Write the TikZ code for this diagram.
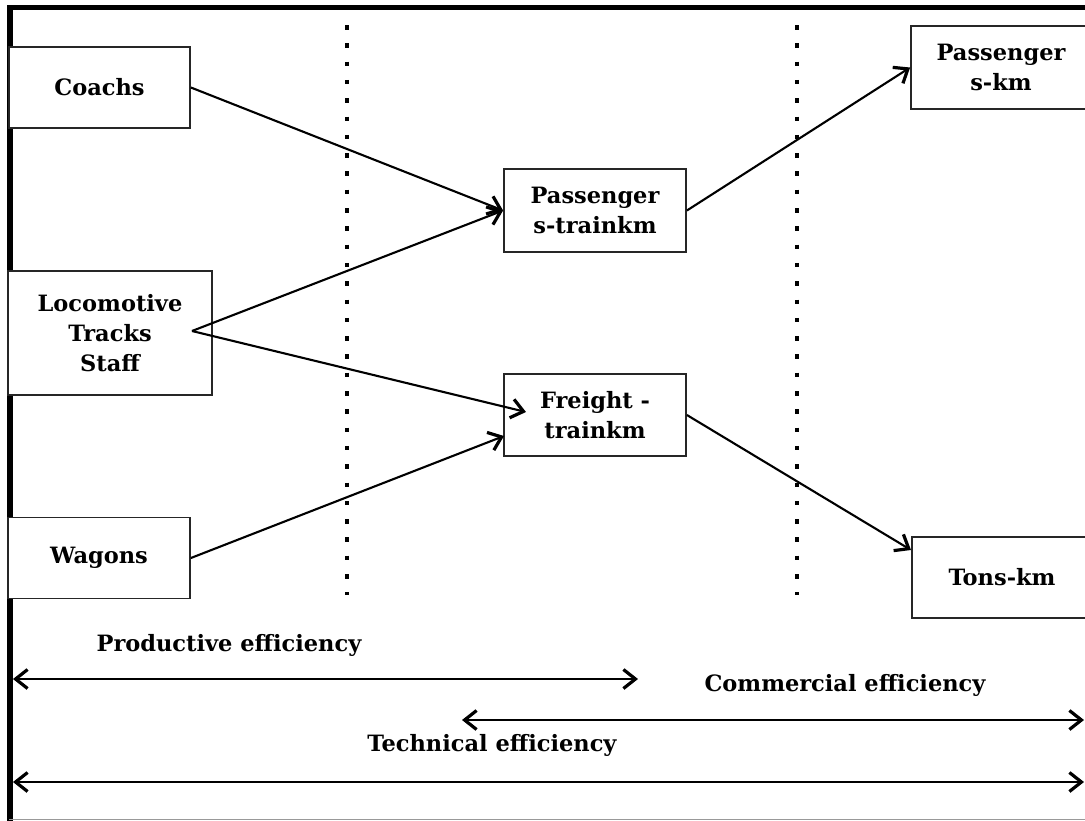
\documentclass[tikz,border=0pt]{standalone}
\usepackage{fontspec}
\setmainfont{DejaVu Serif}
\usetikzlibrary{arrows.meta}
\tikzset{
  box/.style={draw=black!85, line width=1.8pt, fill=white, align=center, inner sep=0pt,
    font=\bfseries\fontsize{22.5}{30}\selectfont},
  conn/.style={line width=2.1pt, -{Straight Barb[length=12pt,width=19pt,line width=3.2pt]}},
  dbl/.style={line width=2.1pt, {Straight Barb[length=12pt,width=19pt,line width=3.2pt]}-{Straight Barb[length=12pt,width=19pt,line width=3.2pt]}},
  lbl/.style={font=\bfseries\fontsize{22.5}{26}\selectfont},
  dots/.style={line width=4.5pt, dash pattern=on 4.5pt off 13.8pt}
}
\begin{document}
\begin{tikzpicture}[x=1pt,y=-1pt]
\useasboundingbox (0,0) rectangle (1085,820);
\begin{scope}
\clip (0,0) rectangle (1085,820);
% frame
\draw[line width=5pt] (7,7.5) -- (1090,7.5);
\draw[line width=6pt] (9.5,5) -- (9.5,825);
\draw[line width=1pt, black!40] (9,819) -- (1090,819);
% dotted separators
\draw[dots] (347,25) -- (347,595);
\draw[dots] (797,25) -- (797,595);
% boxes
\node[box, minimum width=181pt, minimum height=81pt] (coach) at (99.5,87.5) {Coachs};
\node[box, minimum width=204pt, minimum height=124pt] (loco) at (110,333) {Locomotive\\Tracks\\Staff};
\node[box, minimum width=182pt, minimum height=81pt] (wag) at (99,558) {Wagons};
\node[box, minimum width=182pt, minimum height=83pt] (pt) at (595,210.5) {Passenger\\s-trainkm};
\node[box, minimum width=182pt, minimum height=82pt] (ft) at (595,415) {Freight -\\trainkm};
\node[box, minimum width=180pt, minimum height=83pt] (pkm) at (1001,67.5) {Passenger\\s-km};
\node[box, minimum width=180pt, minimum height=81pt] (tkm) at (1002,577.5) {Tons-km};
% connector ends
\coordinate (locoout) at (192,331);
\coordinate (ftin1) at (526,412);
\coordinate (ftin2) at (504,436);
\coordinate (tkmin) at (911,550);
\draw[conn] (coach.east) -- (pt.west);
\draw[conn] (locoout) -- (pt.west);
\draw[conn] (locoout) -- (ftin1);
\draw[conn] (wag.east) -- (ftin2);
\draw[conn] (pt.east) -- (pkm.west);
\draw[conn] (ft.east) -- (tkmin);
% efficiency ranges
\node[lbl] (prodl) at (229,645) {Productive efficiency};
\node[lbl] (comml) at (845,685) {Commercial efficiency};
\node[lbl] (techl) at (492,745) {Technical efficiency};
\coordinate (p1) at (13,679);
\coordinate (p2) at (638,679);
\coordinate (c1) at (462,720);
\coordinate (c2) at (1084,720);
\coordinate (t1) at (13,782);
\coordinate (t2) at (1084,782);
\draw[dbl] (p1) -- (p2);
\draw[dbl] (c1) -- (c2);
\draw[dbl] (t1) -- (t2);
\end{scope}
\end{tikzpicture}
\end{document}
